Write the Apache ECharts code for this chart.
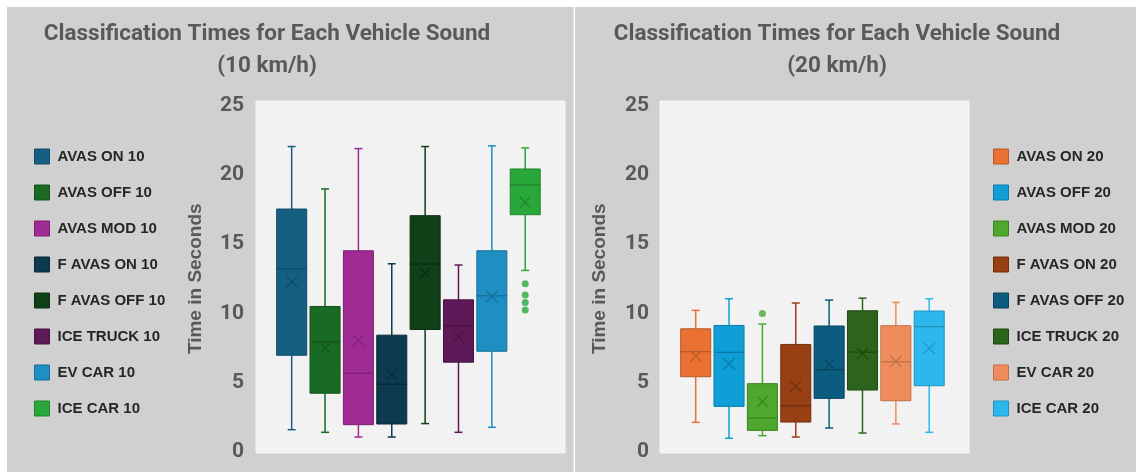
<!DOCTYPE html>
<html>
<head>
<meta charset="utf-8">
<script src="https://cdn.jsdelivr.net/npm/echarts@6.0.0/dist/echarts.min.js"></script>
<style>
  html, body { margin: 0; padding: 0; background: #ffffff; }
  #chart { width: 1136px; height: 472px; }
</style>
</head>
<body>
<div id="chart"></div>
<script>
// ---- 10 km/h ----
const names10   = ['AVAS ON 10', 'AVAS OFF 10', 'AVAS MOD 10', 'F AVAS ON 10', 'F AVAS OFF 10', 'ICE TRUCK 10', 'EV CAR 10', 'ICE CAR 10'];
const min10     = [1.61, 1.42, 1.08, 1.08, 2.05, 1.42, 1.78, 13.10];
const q1_10     = [6.98, 4.24, 1.97, 2.02, 8.84, 6.48, 7.27, 17.12];
const median10  = [13.22, 7.95, 5.68, 4.89, 13.56, 9.10, 11.27, 19.27];
const q3_10     = [17.53, 10.50, 14.52, 8.43, 17.05, 10.98, 14.52, 20.42];
const max10     = [22.04, 18.98, 21.89, 13.58, 22.04, 13.49, 22.09, 21.94];
const mean10    = [12.28, 7.51, 8.04, 5.59, 12.91, 8.29, 11.22, 18.02];
const outlierCat10 = ['ICE CAR 10', 'ICE CAR 10', 'ICE CAR 10', 'ICE CAR 10'];
const outlierVal10 = [12.14, 11.32, 10.79, 10.24];

// ---- 20 km/h ----
const names20   = ['AVAS ON 20', 'AVAS OFF 20', 'AVAS MOD 20', 'F AVAS ON 20', 'F AVAS OFF 20', 'ICE TRUCK 20', 'EV CAR 20', 'ICE CAR 20'];
const min20     = [2.14, 0.99, 1.18, 1.08, 1.73, 1.37, 2.02, 1.42];
const q1_20     = [5.43, 3.29, 1.56, 2.16, 3.87, 4.47, 3.70, 4.78];
const median20  = [7.24, 7.19, 2.45, 3.34, 5.94, 7.21, 6.51, 9.04];
const q3_20     = [8.89, 9.13, 4.93, 7.76, 9.09, 10.19, 9.11, 10.17];
const max20     = [10.22, 11.06, 9.23, 10.75, 10.96, 11.10, 10.79, 11.06];
const mean20    = [6.90, 6.37, 3.63, 4.74, 6.32, 7.09, 6.54, 7.48];
const outlierCat20 = ['AVAS MOD 20'];
const outlierVal20 = [10.0];

// y-axis ticks (shared)
const yTicks = [0, 5, 10, 15, 20, 25];

// fills and darker edge shades per box
const fill10 = ['#156082', '#196b24', '#a02b93', '#0d3a4f', '#0f4017', '#5e1a58', '#1f8ec3', '#29a83a'];
const edge10 = ['#0f4a66', '#12521a', '#7d2173', '#082a3a', '#0a2e10', '#461242', '#176e98', '#1f842d'];
const fill20 = ['#e97132', '#0f9ed5', '#4ea72e', '#983f13', '#0c5c7f', '#2c641b', '#ee8d5b', '#2cb8ec'];
const edge20 = ['#b9592a', '#0c7ba7', '#3c8323', '#70300f', '#08445f', '#1f4912', '#c06f46', '#2093c0'];

const HEAD_FONT = "Roboto, 'Liberation Sans', sans-serif";
const GRAY = '#595959';

function boxRenderer(fill, edge) {
  return function (params, api) {
    const cat = api.value(0);
    const at = v => api.coord([cat, v]);
    const band = api.size([1, 0])[0];
    const hw = band * 0.45;
    const cap = band * 0.12;
    const cx = at(api.value(1))[0];
    const yMin = at(api.value(1))[1];
    const yQ1 = at(api.value(2))[1];
    const yMed = at(api.value(3))[1];
    const yQ3 = at(api.value(4))[1];
    const yMax = at(api.value(5))[1];
    const yMean = at(api.value(6))[1];
    const xs = 5.5;
    const line = (x1, y1, x2, y2, stroke, w) => ({
      type: 'line', shape: { x1, y1, x2, y2 }, style: { stroke, lineWidth: w }
    });
    return {
      type: 'group',
      children: [
        line(cx, yQ3, cx, yMax, fill, 1.5),
        line(cx, yQ1, cx, yMin, fill, 1.5),
        line(cx - cap, yMax, cx + cap, yMax, fill, 1.5),
        line(cx - cap, yMin, cx + cap, yMin, fill, 1.5),
        {
          type: 'rect',
          shape: { x: cx - hw, y: yQ3, width: hw * 2, height: yQ1 - yQ3 },
          style: { fill, stroke: edge, lineWidth: 1 }
        },
        line(cx - hw, yMed, cx + hw, yMed, edge, 1.3),
        line(cx - xs, yMean - xs, cx + xs, yMean + xs, edge, 1.2),
        line(cx - xs, yMean + xs, cx + xs, yMean - xs, edge, 1.2)
      ]
    };
  };
}

function buildSeries(names, mins, q1s, meds, q3s, maxs, means, fills, edges, axisIdx) {
  return names.map((name, i) => ({
    name,
    type: 'custom',
    xAxisIndex: axisIdx,
    yAxisIndex: axisIdx,
    itemStyle: { color: fills[i], borderColor: edges[i] },
    encode: { x: 0, y: [1, 2, 3, 4, 5, 6] },
    renderItem: boxRenderer(fills[i], edges[i]),
    data: [[name, mins[i], q1s[i], meds[i], q3s[i], maxs[i], means[i]]]
  }));
}

function outlierSeries(cats, vals, color, axisIdx) {
  return {
    name: 'outliers-' + axisIdx,
    type: 'scatter',
    xAxisIndex: axisIdx,
    yAxisIndex: axisIdx,
    symbol: 'circle',
    symbolSize: 7,
    itemStyle: { color },
    data: cats.map((c, i) => [c, vals[i]])
  };
}

function legendFor(names, fills, edges, left) {
  return {
    orient: 'vertical',
    left, top: 148.5,
    icon: 'rect',
    itemWidth: 15, itemHeight: 15, itemGap: 20,
    padding: 0,
    selectedMode: false,
    textStyle: {
      color: '#262626', fontSize: 15, fontWeight: 'bold',
      fontFamily: "'Liberation Sans', Arial, sans-serif",
      lineHeight: 15, padding: [0, 0, 0, 3]
    },
    data: names.map((n, i) => ({
      name: n,
      itemStyle: { color: fills[i], borderColor: edges[i], borderWidth: 1 }
    }))
  };
}

function yAxisFor(gridIdx, margin) {
  return {
    type: 'value', gridIndex: gridIdx,
    min: yTicks[0], max: yTicks[yTicks.length - 1], interval: yTicks[1] - yTicks[0],
    axisLine: { show: false }, axisTick: { show: false }, splitLine: { show: false },
    axisLabel: {
      margin, color: GRAY, fontSize: 21, fontWeight: 'bold', fontFamily: HEAD_FONT
    },
    name: 'Time in Seconds',
    nameLocation: 'middle',
    nameGap: 70,
    nameTextStyle: {
      color: GRAY, fontSize: 19, fontWeight: 'bold',
      fontFamily: "'Liberation Sans', Arial, sans-serif"
    }
  };
}

const chart = echarts.init(document.getElementById('chart'), null, { renderer: 'canvas' });

chart.setOption({
  backgroundColor: '#ffffff',
  animation: false,
  graphic: {
    elements: [
      { type: 'rect', z: -10, shape: { x: 7, y: 7, width: 566.5, height: 465 }, style: { fill: '#d0d0d0' } },
      { type: 'rect', z: -10, shape: { x: 575, y: 7, width: 561, height: 465 }, style: { fill: '#d0d0d0' } },
      { type: 'rect', z: -9, shape: { x: 256, y: 101, width: 309, height: 352 }, style: { fill: '#f2f2f2', stroke: '#f7f7f7', lineWidth: 1 } },
      { type: 'rect', z: -9, shape: { x: 660, y: 101, width: 309, height: 352 }, style: { fill: '#f2f2f2', stroke: '#f7f7f7', lineWidth: 1 } }
    ]
  },
  title: [
    {
      text: 'Classification Times for Each Vehicle Sound\n(10 km/h)',
      left: 267, top: 18, textAlign: 'center', padding: 0,
      textStyle: { color: GRAY, fontSize: 22.5, lineHeight: 32, fontWeight: 'bold', fontFamily: HEAD_FONT }
    },
    {
      text: 'Classification Times for Each Vehicle Sound\n(20 km/h)',
      left: 837, top: 18, textAlign: 'center', padding: 0,
      textStyle: { color: GRAY, fontSize: 22.5, lineHeight: 32, fontWeight: 'bold', fontFamily: HEAD_FONT }
    }
  ],
  legend: [
    legendFor(names10, fill10, edge10, 34),
    legendFor(names20, fill20, edge20, 993)
  ],
  grid: [
    { left: 275, width: 266.9, top: 105.5, bottom: 20 },
    { left: 679, width: 266.9, top: 105.5, bottom: 20 }
  ],
  xAxis: [
    { type: 'category', gridIndex: 0, data: names10, show: false },
    { type: 'category', gridIndex: 1, data: names20, show: false }
  ],
  yAxis: [yAxisFor(0, 31), yAxisFor(1, 30)],
  series: [
    ...buildSeries(names10, min10, q1_10, median10, q3_10, max10, mean10, fill10, edge10, 0),
    outlierSeries(outlierCat10, outlierVal10, fill10[7], 0),
    ...buildSeries(names20, min20, q1_20, median20, q3_20, max20, mean20, fill20, edge20, 1),
    outlierSeries(outlierCat20, outlierVal20, fill20[2], 1)
  ]
});
</script>
</body>
</html>
